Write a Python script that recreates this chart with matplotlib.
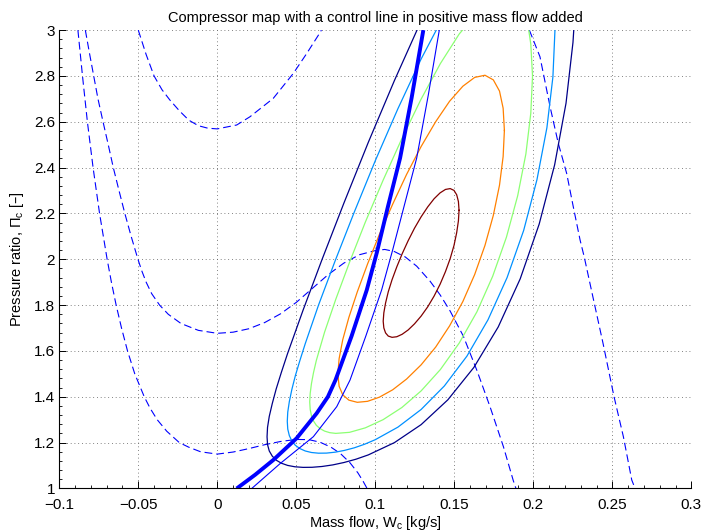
import matplotlib
matplotlib.use("Agg")
import matplotlib.pyplot as plt
from matplotlib.ticker import MultipleLocator, FuncFormatter

plt.rcParams['font.family'] = ['Liberation Sans', 'DejaVu Sans']
plt.rcParams['mathtext.default'] = 'regular'

# speed lines (dashed): mass flow [kg/s], pressure ratio [-]
speed1_w = [-0.0882, -0.0853, -0.0822, -0.0786, -0.0745, -0.0697, -0.0670, -0.0640, -0.0606, -0.0568,
            -0.0522, -0.0462, -0.0425, -0.0380, -0.0320, -0.0240, -0.0180, -0.0105, 0.0,
            0.010, 0.020, 0.030, 0.040, 0.050, 0.058, 0.065, 0.072, 0.078, 0.084, 0.089, 0.0924, 0.0948]
speed1_pi = [3.0, 2.8, 2.6, 2.4, 2.2, 2.0, 1.9, 1.8, 1.7, 1.6,
             1.5, 1.4, 1.35, 1.3, 1.25, 1.2, 1.18, 1.16, 1.15,
             1.159, 1.174, 1.191, 1.205, 1.214, 1.213, 1.202, 1.180, 1.152, 1.112, 1.068, 1.030, 1.0]
speed2_w = [-0.0835, -0.0809, -0.0782, -0.0755, -0.0723, -0.0690, -0.0658, -0.0622, -0.0585, -0.0545,
            -0.0502, -0.0478, -0.0450, -0.0415, -0.0365, -0.0310, -0.0230, -0.0120, 0.0,
            0.010, 0.020, 0.030, 0.040, 0.050, 0.060, 0.070, 0.080, 0.090, 0.100, 0.106, 0.112, 0.119,
            0.1262, 0.1346, 0.1410, 0.1473, 0.1557, 0.1642, 0.1726, 0.1811, 0.1873, 0.1890]
speed2_pi = [3.0, 2.9, 2.8, 2.7, 2.6, 2.5, 2.4, 2.3, 2.2, 2.1,
             2.0, 1.95, 1.9, 1.85, 1.8, 1.76, 1.72, 1.69, 1.677,
             1.682, 1.697, 1.724, 1.762, 1.812, 1.872, 1.932, 1.983, 2.020, 2.038, 2.043, 2.034, 2.010,
             1.970, 1.905, 1.845, 1.775, 1.665, 1.517, 1.357, 1.182, 1.035, 1.0]
speed3_left_w = [-0.050, -0.045, -0.040, -0.035, -0.030, -0.024, -0.018, -0.012, -0.006, 0.0,
                 0.0123, 0.0207, 0.0354, 0.0481, 0.0566, 0.0639, 0.0659]
speed3_left_pi = [3.0, 2.893, 2.800, 2.740, 2.695, 2.648, 2.607, 2.583, 2.572, 2.569,
                  2.586, 2.622, 2.702, 2.811, 2.898, 2.977, 3.0]
speed3_right_w = [0.1975, 0.2042, 0.2106, 0.2158, 0.2211, 0.2253, 0.2296, 0.2322, 0.2372, 0.2441,
                  0.2511, 0.2570, 0.2623, 0.2644]
speed3_right_pi = [3.0, 2.884, 2.666, 2.506, 2.375, 2.229, 2.084, 2.011, 1.852, 1.634,
                   1.40, 1.226, 1.037, 1.0]

# control line (thick) and the thin line next to it
ctrl_w = [0.0123, 0.0240, 0.0354, 0.0502, 0.0629, 0.0700, 0.0748, 0.0850, 0.0946, 0.1010, 0.1080,
          0.1157, 0.1230, 0.1304]
ctrl_pi = [1.0, 1.060, 1.124, 1.219, 1.328, 1.400, 1.473, 1.665, 1.866, 2.030, 2.230,
           2.442, 2.705, 3.0]
thin_w = [0.0218, 0.0400, 0.0608, 0.0756, 0.0840, 0.0940, 0.1040, 0.1110, 0.1262, 0.1335, 0.1405]
thin_pi = [1.0, 1.11, 1.226, 1.357, 1.473, 1.665, 1.866, 2.041, 2.442, 2.715, 3.0]

# efficiency contours, outer to inner
eff1_w = [0.1264, 0.1121, 0.0956, 0.0802, 0.0663, 0.0543, 0.0445, 0.0406, 0.0373, 0.0348, 0.0329,
          0.0318, 0.0315, 0.0318, 0.0329, 0.0348, 0.0373, 0.0406, 0.0445, 0.0491, 0.0543, 0.0600,
          0.0663, 0.0731, 0.0802, 0.0878, 0.0956, 0.1121, 0.1290, 0.1459, 0.1624, 0.1778, 0.1917,
          0.2037, 0.2135, 0.2207, 0.2251, 0.2256]
eff1_pi = [3.0, 2.7799, 2.5107, 2.2464, 1.9992, 1.7782, 1.5892, 1.5077, 1.4348, 1.3706, 1.3146,
           1.2666, 1.2257, 1.1916, 1.1637, 1.1412, 1.1235, 1.1102, 1.1007, 1.0947, 1.0921, 1.0925,
           1.0960, 1.1029, 1.1134, 1.1278, 1.1466, 1.2001, 1.2786, 1.3868, 1.5284, 1.7049, 1.9147,
           2.1533, 2.4123, 2.6812, 2.9463, 3.0]
eff2_w = [0.1386, 0.1290, 0.1143, 0.1000, 0.0867, 0.0746, 0.0641, 0.0557, 0.0523, 0.0494, 0.0472,
          0.0456, 0.0446, 0.0443, 0.0446, 0.0456, 0.0472, 0.0494, 0.0523, 0.0557, 0.0596, 0.0641,
          0.0691, 0.0746, 0.0804, 0.0867, 0.0932, 0.1000, 0.1143, 0.1290, 0.1437, 0.1580, 0.1713,
          0.1834, 0.1939, 0.2023, 0.2086, 0.2124, 0.2137]
eff2_pi = [3.0, 2.8739, 2.6569, 2.4304, 2.2060, 1.9935, 1.8007, 1.6325, 1.5588, 1.4920, 1.4323,
           1.3793, 1.3332, 1.2931, 1.2591, 1.2306, 1.2072, 1.1884, 1.1740, 1.1636, 1.1570, 1.1540,
           1.1544, 1.1584, 1.1660, 1.1774, 1.1930, 1.2129, 1.2676, 1.3447, 1.4473, 1.5776, 1.7358,
           1.9202, 2.1261, 2.3472, 2.5740, 2.7959, 3.0]
eff3_w = [0.1552, 0.1531, 0.1412, 0.1290, 0.1168, 0.1049, 0.0937, 0.0837, 0.0750, 0.0679, 0.0627,
          0.0609, 0.0596, 0.0588, 0.0585, 0.0588, 0.0596, 0.0609, 0.0627, 0.0651, 0.0679, 0.0712,
          0.0750, 0.0837, 0.0937, 0.1049, 0.1168, 0.1290, 0.1412, 0.1531, 0.1643, 0.1743, 0.1830,
          0.1901, 0.1953, 0.1984, 0.1995, 0.1984, 0.1971]
eff3_pi = [3.0, 2.9830, 2.8542, 2.6991, 2.5265, 2.3444, 2.1623, 1.9872, 1.8257, 1.6821, 1.5591,
           1.5057, 1.4576, 1.4150, 1.3775, 1.3450, 1.3174, 1.2944, 1.2756, 1.2610, 1.2504, 1.2435,
           1.2404, 1.2450, 1.2646, 1.3001, 1.3532, 1.4258, 1.5191, 1.6344, 1.7707, 1.9262, 2.0968,
           2.2771, 2.4600, 2.6371, 2.8000, 2.9393, 3.0]
eff4_w = [0.1817, 0.1809, 0.1786, 0.1747, 0.1694, 0.1629, 0.1554, 0.1470, 0.1382, 0.1290, 0.1198,
          0.1110, 0.1026, 0.0951, 0.0886, 0.0833, 0.0794, 0.0771, 0.0763, 0.0771, 0.0794, 0.0833,
          0.0886, 0.0951, 0.1026, 0.1110, 0.1198, 0.1290, 0.1382, 0.1470, 0.1554, 0.1629, 0.1694,
          0.1747, 0.1786, 0.1809, 0.1817]
eff4_pi = [2.5623, 2.6592, 2.7340, 2.7828, 2.8031, 2.7937, 2.7551, 2.6895, 2.6002, 2.4921, 2.3703,
           2.2405, 2.1086, 1.9795, 1.8578, 1.7469, 1.6492, 1.5663, 1.4986, 1.4461, 1.4086, 1.3854,
           1.3760, 1.3803, 1.3984, 1.4306, 1.4775, 1.5395, 1.6169, 1.7093, 1.8156, 1.9337, 2.0605,
           2.1920, 2.3232, 2.4484, 2.5623]
eff5_w = [0.1530, 0.1526, 0.1515, 0.1498, 0.1474, 0.1444, 0.1410, 0.1372, 0.1332, 0.1290, 0.1248,
          0.1208, 0.1170, 0.1136, 0.1106, 0.1082, 0.1065, 0.1054, 0.1050, 0.1054, 0.1065, 0.1082,
          0.1106, 0.1136, 0.1170, 0.1208, 0.1248, 0.1290, 0.1332, 0.1372, 0.1410, 0.1444, 0.1474,
          0.1498, 0.1515, 0.1526, 0.1530]
eff5_pi = [2.2137, 2.2522, 2.2817, 2.3007, 2.3085, 2.3048, 2.2898, 2.2641, 2.2288, 2.1853, 2.1355,
           2.0812, 2.0241, 1.9669, 1.9109, 1.8580, 1.8093, 1.7663, 1.7298, 1.7006, 1.6788, 1.6650,
           1.6595, 1.6621, 1.6729, 1.6917, 1.7183, 1.7522, 1.7928, 1.8394, 1.8911, 1.9462, 2.0032,
           2.0603, 2.1160, 2.1677, 2.2137]

eff_colors = ["#000088", "#0090ff", "#8cff73", "#ff8000", "#800000"]

fig = plt.figure(figsize=(7.03, 5.32), dpi=100)
ax = fig.add_axes([0.0843, 0.0818, 0.8991, 0.8616])

dash = (0, (7, 3.6))
speeds = [(speed1_w, speed1_pi), (speed2_w, speed2_pi),
          (speed3_left_w, speed3_left_pi), (speed3_right_w, speed3_right_pi)]
for w, p in speeds:
    ax.plot(w, p, color="#0000ff", linestyle=dash, linewidth=0.8)

effs = [(eff1_w, eff1_pi), (eff2_w, eff2_pi), (eff3_w, eff3_pi), (eff4_w, eff4_pi), (eff5_w, eff5_pi)]
for (w, p), c in zip(effs, eff_colors):
    ax.plot(w, p, color=c, linewidth=0.9)

ax.plot(thin_w, thin_pi, color="#0000ff", linewidth=0.8)
ax.plot(ctrl_w, ctrl_pi, color="#0000ff", linewidth=2.8, solid_capstyle="butt")

ax.set_xlim(-0.1, 0.3)
ax.set_ylim(1, 3)
ax.xaxis.set_major_locator(MultipleLocator(0.05))
ax.xaxis.set_minor_locator(MultipleLocator(0.01))
ax.yaxis.set_major_locator(MultipleLocator(0.2))
ax.yaxis.set_minor_locator(MultipleLocator(0.04))
ax.xaxis.set_major_formatter(FuncFormatter(lambda v, _: f"{v:g}".replace("-", "\u2212")))
ax.yaxis.set_major_formatter(FuncFormatter(lambda v, _: f"{v:g}"))
ax.tick_params(which="both", direction="in", labelsize=11, colors="black")
ax.tick_params(which="major", length=5, width=0.7)
ax.tick_params(which="minor", length=2.5, width=0.6)
ax.tick_params(axis="x", which="major", pad=6.5)
ax.tick_params(axis="y", which="major", pad=3)
ax.spines["top"].set_visible(False)
ax.spines["right"].set_visible(False)
ax.grid(True, which="major", color="0.35", linestyle=(0, (1, 3.5)), linewidth=0.6)

ax.set_title("Compressor map with a control line in positive mass flow added", fontsize=10.5)
ax.set_xlabel("Mass flow, W$_c$ [kg/s]", fontsize=10.5, labelpad=2)
ax.set_ylabel("Pressure ratio, \u03a0$_c$ [\u2013]", fontsize=10.5, labelpad=6)

fig.savefig("out.png", dpi=100)
